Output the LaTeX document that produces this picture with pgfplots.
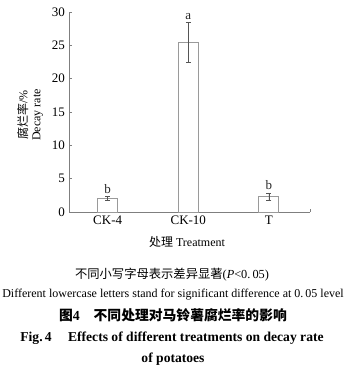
\documentclass[border=0pt]{standalone}
\usepackage{pgfplots}
\pgfplotsset{compat=1.18}
\usepackage{fontspec}
\setmainfont{Liberation Serif}
\newfontfamily\cjk{Noto Sans CJK SC}
\definecolor{axgray}{HTML}{7F7F7F}
\definecolor{bargray}{HTML}{9A9A9A}
\definecolor{errgray}{HTML}{555555}
\begin{document}
\begin{tikzpicture}
\useasboundingbox (0,0) rectangle (359bp,375bp);
\begin{axis}[
  at={(69bp,163bp)}, anchor=south west,
  scale only axis, width=241bp, height=200bp,
  xmin=-0.48, xmax=2.51, ymin=0, ymax=30,
  axis x line*=bottom, axis y line*=left,
  axis line style={axgray, line width=0.6pt},
  every tick/.style={axgray, line width=0.6pt},
  major tick length=3bp,
  tick align=inside,
  xtick={0,1,2}, xticklabels={CK-4,CK-10,T},
  extra x ticks={2.51}, extra x tick labels={},
  ytick={0,5,10,15,20,25,30},
  tick label style={font=\fontsize{13bp}{15bp}\selectfont, text=black},
  /pgf/number format/assume math mode=true,
  xticklabel style={yshift=-0.5bp},
  yticklabel style={xshift=-0.5bp},
  clip=false,
]
\addplot[ybar, bar width=20bp, draw=bargray, fill=white, line width=0.8pt,
  error bars/.cd, y dir=both, y explicit,
  error bar style={errgray, line width=0.6pt},
  error mark options={errgray, line width=0.6pt, mark size=2.5bp, rotate=90}]
  table[x=x, y=y, y error=e] {
  x y e
  0 2.0 0.3
  1 25.4 3.0
  2 2.3 0.55
};
\addplot[draw=none, mark=none, nodes near coords, point meta=explicit symbolic,
  every node near coord/.style={anchor=south, font=\fontsize{13bp}{15bp}\selectfont, text=black!85, inner sep=0pt, yshift=2.5bp}]
  coordinates {(0,2.3)[b] (1,28.4)[a] (2,2.9)[b]};
\end{axis}
\node[rotate=90, font=\fontsize{12bp}{13bp}\selectfont, align=center, inner sep=0pt] at (30bp,260bp)
  {{\cjk 腐烂率}/\%\\[0bp] Decay rate};
\node[font=\fontsize{12bp}{14bp}\selectfont, inner sep=0pt] at (187bp,133bp) {{\cjk 处理} Treatment};
\node[font=\fontsize{12.3bp}{14bp}\selectfont, inner sep=0pt] at (172bp,100bp) {{\cjk 不同小写字母表示差异显著}(\textit{P}<0.\,05)};
\node[font=\fontsize{12bp}{14bp}\selectfont, inner sep=0pt] at (173bp,80bp) {Different lowercase letters stand for significant difference at 0.\,05 level};
\node[font=\fontsize{13.8bp}{15bp}\selectfont, inner sep=0pt] at (173bp,60bp) {{\cjk\bfseries 图}\textbf{4}\hspace{1em}{\cjk\bfseries 不同处理对马铃薯腐烂率的影响}};
\node[font=\fontsize{13.6bp}{15bp}\selectfont\bfseries, inner sep=0pt] at (172bp,37bp) {Fig.\,4\hspace{1.2em}Effects of different treatments on decay rate};
\node[font=\fontsize{13.6bp}{15bp}\selectfont\bfseries, inner sep=0pt] at (173bp,16bp) {of potatoes};
\end{tikzpicture}
\end{document}
